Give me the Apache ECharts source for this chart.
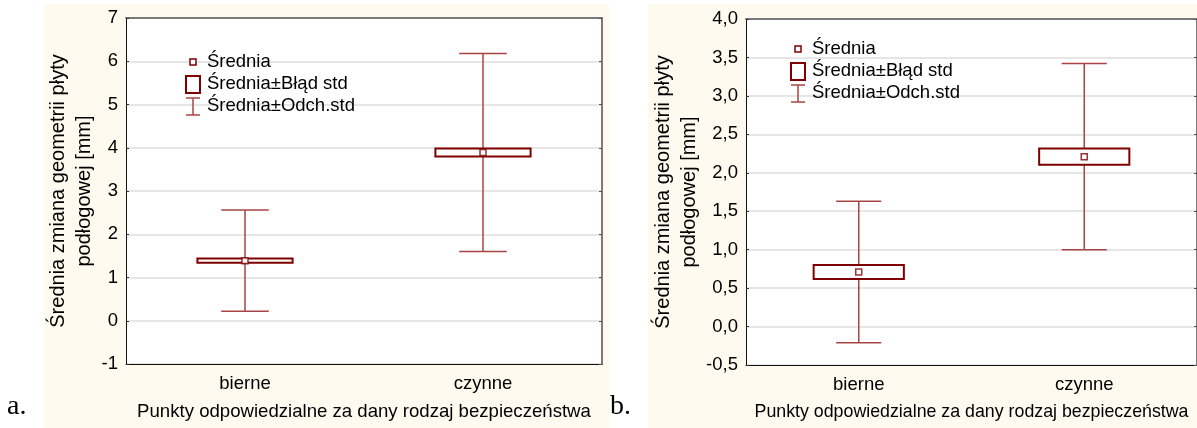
<!DOCTYPE html>
<html>
<head>
<meta charset="utf-8">
<script src="https://cdn.jsdelivr.net/npm/echarts@6/dist/echarts.min.js"></script>
<style>
html,body{margin:0;padding:0;background:#fff;}
#chart{width:1197px;height:428px;}
</style>
</head>
<body>
<div id="chart"></div>
<script>
// kategorie osi X
var categories = ['bierne', 'czynne'];
// wykres a. (średnia, błąd std, odch. std)
var meanA = [1.39, 3.89];
var seA = [0.05, 0.09];
var sdA = [1.17, 2.29];
// wykres b.
var meanB = [0.71, 2.21];
var seB = [0.09, 0.105];
var sdB = [0.92, 1.21];

var FONT = '"Liberation Sans", Arial, sans-serif';
var yName = 'Średnia zmiana geometrii płyty\npodłogowej [mm]';
var xName = 'Punkty odpowiedzialne za dany rodzaj bezpieczeństwa';
var BOX_COLOR = '#7f0000';
var WHISK_COLOR = '#a84444';

function boxItem(params, api){
	var x = api.value(0), m = api.value(1), e = api.value(2);
	var top = api.coord([x, m + e]);
	var bot = api.coord([x, m - e]);
	var w = api.size([1, 0])[0] * 0.4;
	return {
		type: 'rect',
		shape: {x: top[0] - w / 2, y: top[1], width: w, height: bot[1] - top[1]},
		style: {fill: '#fff', stroke: BOX_COLOR, lineWidth: 2}
	};
}
function whiskerItem(params, api){
	var x = api.value(0), m = api.value(1), e = api.value(2);
	var top = api.coord([x, m + e]);
	var bot = api.coord([x, m - e]);
	var w = api.size([1, 0])[0] * 0.2;
	var st = {stroke: WHISK_COLOR, lineWidth: 1.5};
	return {
		type: 'group',
		children: [
			{type: 'line', shape: {x1: top[0], y1: top[1], x2: bot[0], y2: bot[1]}, style: st},
			{type: 'line', shape: {x1: top[0] - w / 2, y1: top[1], x2: top[0] + w / 2, y2: top[1]}, style: st},
			{type: 'line', shape: {x1: bot[0] - w / 2, y1: bot[1], x2: bot[0] + w / 2, y2: bot[1]}, style: st}
		]
	};
}
function rows(mean, err){
	return categories.map(function(c, i){ return [i, mean[i], err[i]]; });
}

function xAxes(grid, nameSize){
	return [{
		type: 'category', gridIndex: grid, data: categories, position: 'bottom',
		axisLine: {onZero: false, lineStyle: {color: '#111', width: 1}},
		axisTick: {inside: true, alignWithLabel: true, length: 3, lineStyle: {color: '#333'}},
		axisLabel: {color: '#000', fontSize: 18.5, fontFamily: FONT, margin: 10},
		name: xName, nameLocation: 'middle', nameGap: 38,
		nameTextStyle: {color: '#000', fontSize: nameSize, fontFamily: FONT}
	},{
		type: 'category', gridIndex: grid, data: categories, position: 'top',
		axisLine: {onZero: false, lineStyle: {color: '#7a7a7a', width: 2}},
		axisTick: {inside: true, alignWithLabel: true, length: 3, lineStyle: {color: '#555'}},
		axisLabel: {show: false}
	}];
}
function yAxes(grid, min, max, step, fmt, gap){
	return [{
		type: 'value', gridIndex: grid, min: min, max: max, interval: step, position: 'left',
		axisLine: {show: true, onZero: false, lineStyle: {color: '#111', width: 1}},
		axisTick: {show: true, inside: true, length: 3, lineStyle: {color: '#333'}},
		axisLabel: {color: '#000', fontSize: 18.5, fontFamily: FONT, margin: 8, formatter: fmt},
		splitLine: {lineStyle: {color: '#dedede', width: 1.5}},
		name: yName, nameLocation: 'middle', nameGap: gap, nameRotate: 90,
		nameTextStyle: {color: '#000', fontSize: 20, lineHeight: 26, fontFamily: FONT}
	},{
		type: 'value', gridIndex: grid, min: min, max: max, interval: step, position: 'right',
		axisLine: {show: true, onZero: false, lineStyle: {color: '#7a7a7a', width: 2}},
		axisTick: {show: true, inside: true, length: 3, lineStyle: {color: '#555'}},
		axisLabel: {show: false}, splitLine: {show: false}
	}];
}
function seriesFor(xi, yi, mean, se, sd){
	return [{
		name: 'Średnia±Odch.std', type: 'custom', xAxisIndex: xi, yAxisIndex: yi,
		renderItem: whiskerItem, data: rows(mean, sd), z: 3
	},{
		name: 'Średnia±Błąd std', type: 'custom', xAxisIndex: xi, yAxisIndex: yi,
		renderItem: boxItem, data: rows(mean, se), z: 4
	},{
		name: 'Średnia', type: 'scatter', xAxisIndex: xi, yAxisIndex: yi,
		symbol: 'rect', symbolSize: 6, data: mean, z: 5,
		itemStyle: {color: '#fff', borderColor: BOX_COLOR, borderWidth: 1.5}
	}];
}
// legenda rysowana ręcznie, jak w oryginale
function legend(ix, iy){
	var txt = function(y, s){
		return {type: 'text', left: ix + 14, top: y - 10, z: 10,
			style: {text: s, fill: '#000', fontSize: 18.5, fontFamily: FONT}};
	};
	var ls = {stroke: WHISK_COLOR, lineWidth: 1.5};
	return [
		{type: 'rect', shape: {x: ix - 3, y: iy - 3, width: 6, height: 6}, z: 10,
			style: {fill: '#fff', stroke: BOX_COLOR, lineWidth: 1.5}},
		txt(iy, 'Średnia'),
		{type: 'rect', shape: {x: ix - 7, y: iy + 14, width: 14, height: 17}, z: 10,
			style: {fill: '#fff', stroke: BOX_COLOR, lineWidth: 2}},
		txt(iy + 22, 'Średnia±Błąd std'),
		{type: 'line', shape: {x1: ix, y1: iy + 36, x2: ix, y2: iy + 53}, z: 10, style: ls},
		{type: 'line', shape: {x1: ix - 7, y1: iy + 36, x2: ix + 7, y2: iy + 36}, z: 10, style: ls},
		{type: 'line', shape: {x1: ix - 7, y1: iy + 53, x2: ix + 7, y2: iy + 53}, z: 10, style: ls},
		txt(iy + 44, 'Średnia±Odch.std')
	];
}

var chart = echarts.init(document.getElementById('chart'));
chart.setOption({
	animation: false,
	graphic: [
		{type: 'rect', shape: {x: 44, y: 4, width: 565, height: 424}, z: -10, style: {fill: '#fefaef'}},
		{type: 'rect', shape: {x: 648, y: 4, width: 549, height: 424}, z: -10, style: {fill: '#fefaef'}},
		{type: 'text', left: 7, top: 393, style: {text: 'a.', fill: '#000', fontSize: 28, fontFamily: '"Liberation Serif", serif'}},
		{type: 'text', left: 610, top: 393, style: {text: 'b.', fill: '#000', fontSize: 28, fontFamily: '"Liberation Serif", serif'}}
	].concat(legend(193, 62)).concat(legend(798, 49)),
	grid: [
		{left: 126, top: 18, width: 476, height: 346, show: true, backgroundColor: '#fff', borderWidth: 0},
		{left: 746, top: 19, width: 460, height: 346, show: true, backgroundColor: '#fff', borderWidth: 0}
	],
	xAxis: xAxes(0, 18.6).concat(xAxes(1, 17.8)),
	yAxis: yAxes(0, -1, 7, 1, function(v){ return v; }, 24)
		.concat(yAxes(1, -0.5, 4, 0.5, function(v){ return v.toFixed(1).replace('.', ','); }, 40)),
	series: seriesFor(0, 0, meanA, seA, sdA).concat(seriesFor(2, 2, meanB, seB, sdB))
});
</script>
</body>
</html>
